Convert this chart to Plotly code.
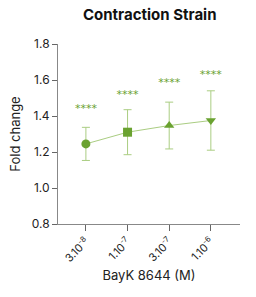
import plotly.graph_objects as go

categories = ["3.10<sup>-8</sup>", "1.10<sup>-7</sup>", "3.10<sup>-7</sup>", "1.10<sup>-6</sup>"]
means = [1.245, 1.31, 1.347, 1.375]
errors = [0.092, 0.125, 0.13, 0.165]
symbols = ["circle", "square", "triangle-up", "triangle-down"]
sig_labels = ["****", "****", "****", "****"]
sig_y = [1.44, 1.513, 1.58, 1.629]

xs = list(range(len(categories)))
dark = "#6aa230"
light = "#aacd82"

fig = go.Figure()
fig.add_trace(go.Scatter(
    x=xs, y=means, mode="lines+markers",
    line=dict(color=light, width=1),
    marker=dict(symbol=symbols, size=9, color=dark),
    error_y=dict(type="data", array=errors, color=light, thickness=1, width=4),
    showlegend=False, cliponaxis=False,
))
fig.add_trace(go.Scatter(
    x=xs, y=sig_y, mode="text", text=sig_labels,
    textfont=dict(color=dark, size=11, family="DejaVu Sans"),
    showlegend=False, cliponaxis=False,
))

fig.update_layout(
    width=256, height=297,
    margin=dict(l=58, r=16, t=44, b=73),
    plot_bgcolor="white", paper_bgcolor="white",
    title=dict(text="<b>Contraction Strain</b>", x=0.585, xanchor="center", y=0.952, yanchor="middle",
               font=dict(family="Inter", size=15, color="#111111")),
    font=dict(family="Inter", color="#222222"),
)
fig.update_xaxes(
    range=[-0.67, 3.7], tickmode="array", tickvals=xs, ticktext=categories,
    tickangle=-45, ticks="outside", ticklen=6, tickcolor="#666666",
    showline=True, linecolor="#888888", linewidth=1, showgrid=False, zeroline=False,
    tickfont=dict(size=11, color="#222222"),
    title=dict(text="BayK 8644 (M)", font=dict(size=13, color="#222222"), standoff=7),
)
fig.update_yaxes(
    range=[0.8, 1.8], tickvals=[0.8, 1.0, 1.2, 1.4, 1.6, 1.8],
    ticktext=["0.8", "1.0", "1.2", "1.4", "1.6", "1.8"],
    ticks="outside", ticklen=5, tickcolor="#666666",
    showline=True, linecolor="#888888", linewidth=1, showgrid=False, zeroline=False,
    tickfont=dict(size=12, color="#222222"),
    title=dict(text="Fold change", font=dict(size=13, color="#222222"), standoff=8),
)

fig.write_html("out.html")
